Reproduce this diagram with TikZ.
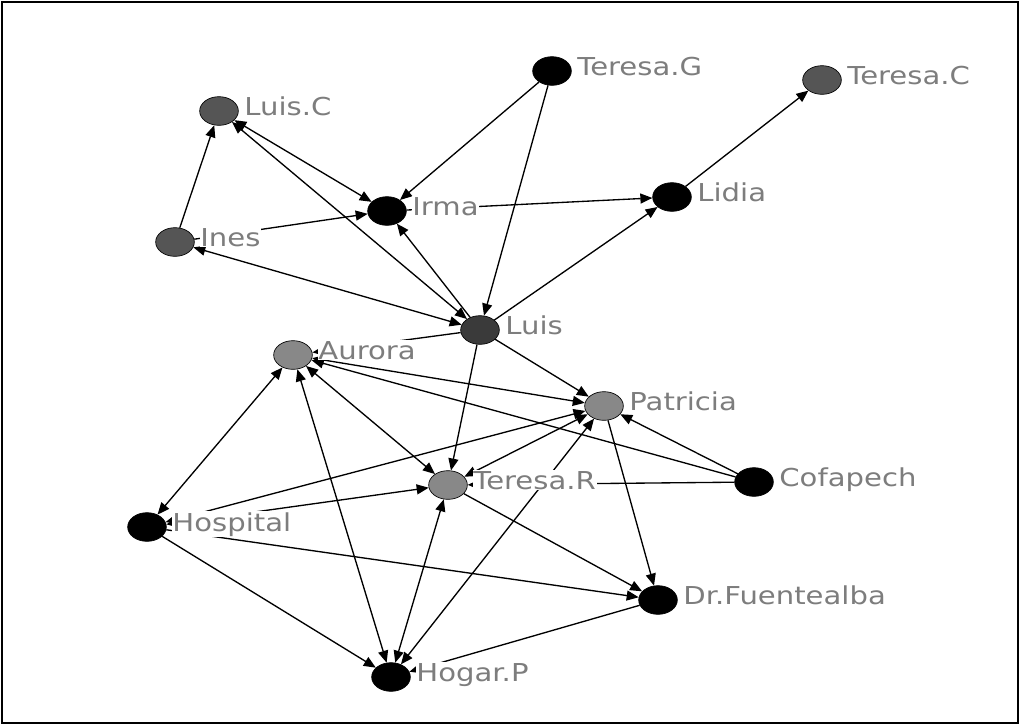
\documentclass[tikz,border=0pt]{standalone}
\usepackage{fontspec}
\newfontfamily\tagfont[FakeStretch=1.18]{DejaVu Sans}
\usetikzlibrary{shapes.geometric,arrows.meta}
\definecolor{taggray}{RGB}{125,125,125}
\definecolor{midgray}{RGB}{136,136,136}
\definecolor{darkgray}{RGB}{85,85,85}
\definecolor{deepgray}{RGB}{58,58,58}

\begin{document}
\begin{tikzpicture}[x=0.75pt, y=-0.75pt,
    actor/.style={ellipse, draw=black, line width=0.5pt, minimum width=29pt,
                  minimum height=21.5pt, inner sep=0pt},
    tag/.style={anchor=base west, fill=white, inner sep=0.6pt, text=taggray,
                font=\tagfont\fontsize{18.5}{21}\selectfont},
    link/.style={draw, line width=1pt, -{Triangle[length=9pt,width=7.5pt]}},
    both/.style={draw, line width=1pt,
                 {Triangle[length=9pt,width=7.5pt]}-{Triangle[length=9pt,width=7.5pt]}}
]
    \useasboundingbox (0,0) rectangle (1021,726);
    \draw[line width=1.5pt] (2,2) rectangle (1018,723);

    % actors
    \node[actor, fill=darkgray] (luisc)    at (219,111) {};
    \node[actor, fill=darkgray] (ines)     at (175,242) {};
    \node[actor, fill=black]    (irma)     at (387,211) {};
    \node[actor, fill=black]    (teresag)  at (552,71)  {};
    \node[actor, fill=darkgray] (teresac)  at (822,80)  {};
    \node[actor, fill=black]    (lidia)    at (672,197) {};
    \node[actor, fill=deepgray] (luis)     at (480,330) {};
    \node[actor, fill=midgray]  (aurora)   at (293,355) {};
    \node[actor, fill=midgray]  (patricia) at (604,406) {};
    \node[actor, fill=midgray]  (teresar)  at (448,485) {};
    \node[actor, fill=black]    (cofapech) at (754,482) {};
    \node[actor, fill=black]    (hospital) at (147,527) {};
    \node[actor, fill=black]    (fuente)   at (658,600) {};
    \node[actor, fill=black]    (hogar)    at (391,677) {};

    % ties
    \draw[link] (ines) -- (luisc);
    \draw[both] (luisc) -- (irma);
    \draw[both] (luisc) -- (luis);
    \draw[link] (ines) -- (irma);
    \draw[link] (teresag) -- (irma);
    \draw[link] (luis) -- (irma);
    \draw[both] (luis) -- (ines);
    \draw[link] (irma) -- (lidia);
    \draw[link] (luis) -- (lidia);
    \draw[link] (lidia) -- (teresac);
    \draw[link] (teresag) -- (luis);
    \draw[link] (luis) -- (aurora);
    \draw[link] (luis) -- (patricia);
    \draw[link] (luis) -- (teresar);
    \draw[both] (aurora) -- (patricia);
    \draw[link] (cofapech) -- (aurora);
    \draw[both] (aurora) -- (teresar);
    \draw[both] (aurora) -- (hospital);
    \draw[both] (aurora) -- (hogar);
    \draw[both] (hospital) -- (patricia);
    \draw[both] (hospital) -- (teresar);
    \draw[link] (hospital) -- (fuente);
    \draw[link] (hospital) -- (hogar);
    \draw[both] (teresar) -- (patricia);
    \draw[link] (teresar) -- (fuente);
    \draw[both] (teresar) -- (hogar);
    \draw[both] (hogar) -- (patricia);
    \draw[link] (patricia) -- (fuente);
    \draw[link] (cofapech) -- (patricia);
    \draw[link] (cofapech) -- (teresar);
    \draw[link] (fuente) -- (hogar);

    % names
    \node[tag] (luiscT)    at ([xshift=3.5pt,yshift=-3pt]luisc.east)    {Luis.C};
    \node[tag] (inesT)     at ([xshift=3.5pt,yshift=-3pt]ines.east)     {Ines};
    \node[tag] (irmaT)     at ([xshift=3.5pt,yshift=-3pt]irma.east)     {Irma};
    \node[tag] (teresagT)  at ([xshift=3.5pt,yshift=-3pt]teresag.east)  {Teresa.G};
    \node[tag] (teresacT)  at ([xshift=3.5pt,yshift=-3pt]teresac.east)  {Teresa.C};
    \node[tag] (lidiaT)    at ([xshift=3.5pt,yshift=-3pt]lidia.east)    {Lidia};
    \node[tag] (luisT)     at ([xshift=3.5pt,yshift=-3pt]luis.east)     {Luis};
    \node[tag] (auroraT)   at ([xshift=3.5pt,yshift=-3pt]aurora.east)   {Aurora};
    \node[tag] (patriciaT) at ([xshift=3.5pt,yshift=-3pt]patricia.east) {Patricia};
    \node[tag] (teresarT)  at ([xshift=3.5pt,yshift=-3pt]teresar.east)  {Teresa.R};
    \node[tag] (cofapechT) at ([xshift=3.5pt,yshift=-3pt]cofapech.east) {Cofapech};
    \node[tag] (hospitalT) at ([xshift=3.5pt,yshift=-3pt]hospital.east) {Hospital};
    \node[tag] (fuenteT)   at ([xshift=3.5pt,yshift=-3pt]fuente.east)   {Dr.Fuentealba};
    \node[tag] (hogarT)    at ([xshift=3.5pt,yshift=-3pt]hogar.east)    {Hogar.P};
\end{tikzpicture}
\end{document}
